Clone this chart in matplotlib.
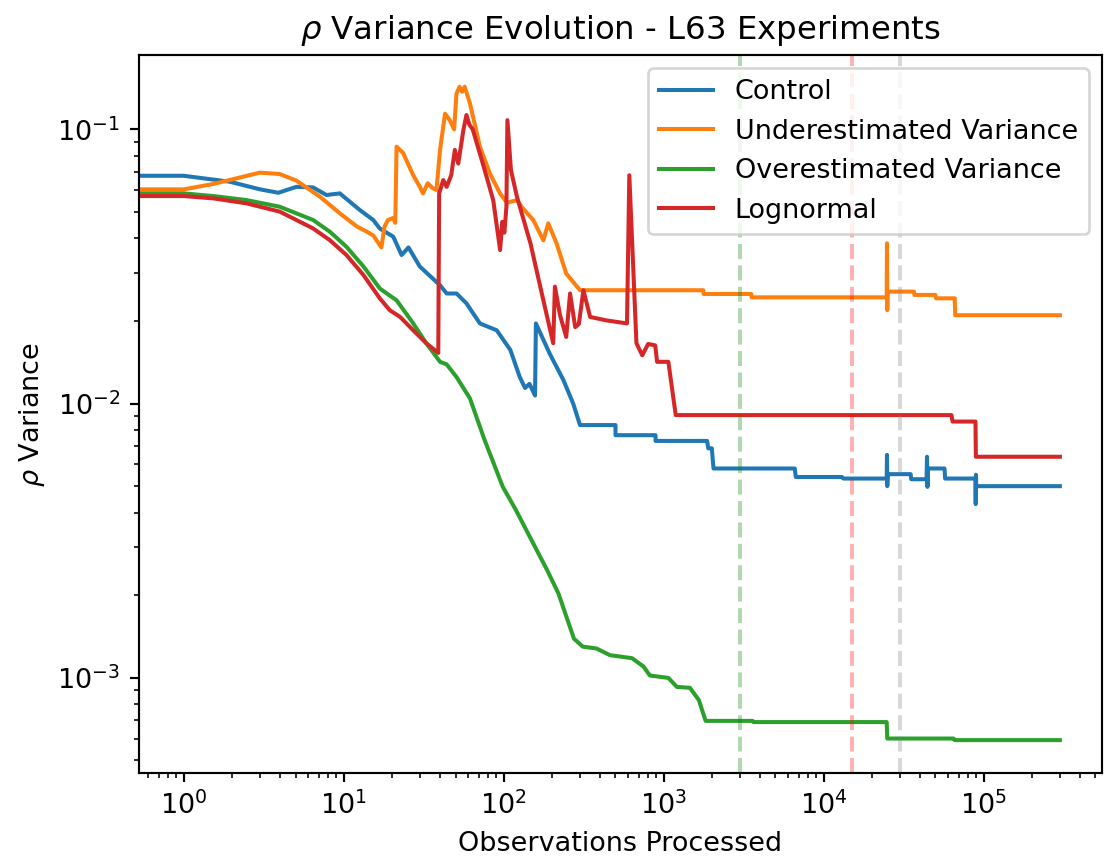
import matplotlib
matplotlib.use("Agg")
import matplotlib.pyplot as plt

# valeurs (observations traitees, variance de rho)
control_x = [0, 1, 1.94, 3, 3.9, 5.06, 6.44, 7.8, 9.45, 12.6, 15.3, 16.8, 20.4, 23, 25.4, 29.9, 40, 44,
             50.7, 58.5, 71, 90.5, 110, 126, 136, 145, 157, 159, 194, 236, 272, 300, 500, 500, 890, 890,
             1870, 1900, 2000, 2050, 6600, 6700, 13000, 13300, 24800, 24900, 25000, 25200, 35000, 35300,
             44000, 44300, 44600, 45000, 57000, 57500, 89000, 89300, 89600, 90000, 300000]
control_y = [0.0677, 0.0677, 0.0644, 0.0604, 0.0587, 0.0617, 0.0614, 0.0576, 0.0584, 0.0508, 0.0467,
             0.0435, 0.0406, 0.0348, 0.0371, 0.0316, 0.0270, 0.0252, 0.0252, 0.0232, 0.0196, 0.0185,
             0.0157, 0.0125, 0.0114, 0.0118, 0.0107, 0.0196, 0.0152, 0.0122, 0.0100, 0.00835, 0.00835,
             0.00767, 0.00767, 0.00731, 0.00731, 0.00687, 0.00687, 0.0058, 0.0058, 0.0054, 0.0054,
             0.00533, 0.00533, 0.0065, 0.0050, 0.00553, 0.00553, 0.0053, 0.0053, 0.0064, 0.00497, 0.0058,
             0.0058, 0.00533, 0.00533, 0.0043, 0.0055, 0.0050, 0.0050]

under_x = [0, 1, 1.53, 2.99, 3.98, 5.06, 7.1, 9.45, 12.1, 14, 15.3, 17.2, 18, 18.9, 20.4, 21, 21.4, 23.5,
           27.2, 29.9, 31.3, 33.5, 36, 38, 40, 43, 46, 49, 50.7, 53, 55, 57, 61.5, 71, 82, 95, 105, 121,
           130, 153, 177, 190, 214, 246, 300, 1770, 1780, 3530, 3550, 24800, 24900, 25000, 25100, 36700,
           37000, 50000, 50500, 66000, 66500, 300000]
under_y = [0.0604, 0.0604, 0.0632, 0.0695, 0.0687, 0.0650, 0.0568, 0.0494, 0.0442, 0.0423, 0.0410,
           0.0371, 0.0442, 0.0467, 0.0475, 0.0456, 0.0864, 0.0820, 0.0680, 0.0617, 0.0584, 0.0636,
           0.0610, 0.0601, 0.0841, 0.114, 0.108, 0.100, 0.135, 0.143, 0.137, 0.143, 0.1245, 0.0864,
           0.069, 0.0583, 0.0540, 0.0552, 0.0520, 0.0467, 0.0394, 0.0454, 0.0384, 0.0298, 0.0259,
           0.0259, 0.0251, 0.0251, 0.0244, 0.0244, 0.0384, 0.0219, 0.0256, 0.0256, 0.0249, 0.0249,
           0.0242, 0.0242, 0.0210, 0.0210]

over_x = [0, 1, 1.53, 2.47, 3.98, 6.44, 8.2, 10.4, 13.3, 16.8, 18.6, 21.4, 27.2, 32.8, 40, 44, 50.7,
          61.5, 76, 98.6, 119, 187, 220, 275, 312, 380, 462, 634, 748, 820, 1070, 1210, 1460, 1660, 1830,
          3600, 3650, 24800, 25000, 65000, 66000, 300000]
over_y = [0.0584, 0.0584, 0.0571, 0.0552, 0.0522, 0.0467, 0.0423, 0.0373, 0.0316, 0.0263, 0.0252,
          0.0238, 0.0196, 0.0166, 0.0142, 0.0139, 0.0125, 0.01045, 0.00736, 0.00498, 0.0041, 0.00247,
          0.00203, 0.00139, 0.0013, 0.00128, 0.00121, 0.00118, 0.0011, 0.00102, 0.00100, 0.000927,
          0.00092, 0.00083, 0.000697, 0.000697, 0.00069, 0.00069, 0.000601, 0.000601, 0.000593,
          0.000593]

logn_x = [0, 1, 1.53, 2.47, 3.98, 6.44, 8.2, 10.4, 13.3, 16.8, 19.4, 22.5, 27.2, 32.8, 39, 39.5, 41.9,
          44, 47, 49.5, 52, 56, 58.5, 61, 64, 74, 86, 95, 98, 101, 104, 105.5, 111, 121, 147, 177, 204,
          209, 225, 246, 260, 280, 295, 315, 347, 440, 590, 610, 676, 735, 800, 886, 910, 1070, 1190,
          63000, 64000, 89000, 89500, 300000]
logn_y = [0.0571, 0.0571, 0.0560, 0.0537, 0.0501, 0.0435, 0.0394, 0.0348, 0.0294, 0.0242, 0.0219,
          0.0207, 0.0185, 0.0166, 0.0153, 0.0584, 0.0653, 0.0617, 0.068, 0.0841, 0.075, 0.0994, 0.1128,
          0.104, 0.100, 0.0751, 0.0552, 0.0363, 0.046, 0.042, 0.0522, 0.108, 0.0711, 0.0568, 0.0384,
          0.0238, 0.0166, 0.0267, 0.021, 0.0175, 0.0252, 0.019, 0.0195, 0.0259, 0.0207, 0.0201, 0.0196,
          0.068, 0.0166, 0.015, 0.0165, 0.0163, 0.0142, 0.0142, 0.00908, 0.00908, 0.0086, 0.0086,
          0.0064, 0.0064]

# lignes verticales (x, couleur)
vlines = [(3000, "green"), (15000, "red"), (30000, "gray")]
xticks = [1, 10, 100, 1000, 10000, 100000]

fig = plt.figure(figsize=(1104 / 194, 863 / 194), dpi=194)
ax = fig.add_axes([139 / 1104, 1 - 773 / 863, 963 / 1104, 718 / 863])

ax.plot(control_x, control_y, label="Control")
ax.plot(under_x, under_y, label="Underestimated Variance")
ax.plot(over_x, over_y, label="Overestimated Variance")
ax.plot(logn_x, logn_y, label="Lognormal")

for xv, c in vlines:
    ax.axvline(xv, color=c, linestyle="--", alpha=0.3)

ax.set_xscale("log")
ax.set_yscale("log")
ax.set_xticks(xticks)
ax.set_xlim(0.525, 5.5e5)
ax.set_ylim(4.5e-4, 0.1866)

ax.set_xlabel("Observations Processed")
ax.set_ylabel(r"$\rho$ Variance")
ax.set_title(r"$\rho$ Variance Evolution - L63 Experiments")
ax.legend(loc="upper right")

fig.savefig("out.png", dpi=194)
